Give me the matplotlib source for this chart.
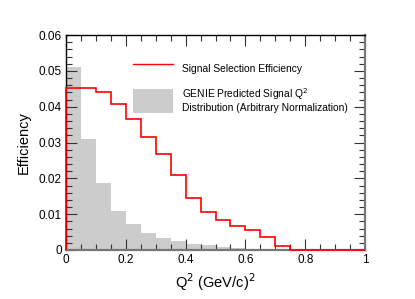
import matplotlib
matplotlib.use("Agg")
import matplotlib.pyplot as plt
import numpy as np
from matplotlib.lines import Line2D
from matplotlib.patches import Patch
from matplotlib.ticker import MultipleLocator

plt.rcParams['font.family'] = ['Liberation Sans', 'DejaVu Sans']

bin_edges = [0.0, 0.05, 0.10, 0.15, 0.20, 0.25, 0.30, 0.35, 0.40, 0.45, 0.50,
             0.55, 0.60, 0.65, 0.70, 0.75, 0.80, 0.85, 0.90, 0.95, 1.00]
efficiency = [0.0453, 0.0452, 0.0440, 0.0407, 0.0365, 0.0316, 0.0267, 0.0208,
              0.0146, 0.0107, 0.0085, 0.0068, 0.0056, 0.0037, 0.0012,
              0.0, 0.0, 0.0, 0.0, 0.0]
genie_q2 = [0.0511, 0.0310, 0.0187, 0.0109, 0.0073, 0.0047, 0.0033, 0.0026,
            0.0017, 0.0013, 0.0008, 0.0006, 0.0004, 0.0003, 0.0002,
            0.0001, 0.0001, 0.0, 0.0, 0.0]
x_ticks = [0, 0.2, 0.4, 0.6, 0.8, 1.0]
x_labels = ["0", "0.2", "0.4", "0.6", "0.8", "1"]
y_ticks = [0, 0.01, 0.02, 0.03, 0.04, 0.05, 0.06]
y_labels = ["0", "0.01", "0.02", "0.03", "0.04", "0.05", "0.06"]

fig = plt.figure(figsize=(4.15, 2.99), dpi=100)
ax = fig.add_axes([66/415, 1-250/299, 299/415, 215/299])

ax.stairs(genie_q2, bin_edges, fill=True, color='#cccccc', zorder=1)
ax.stairs(efficiency, bin_edges, baseline=0, fill=False, color='#ff0000',
          linewidth=1.2, zorder=5, clip_on=False)

ax.set_xlim(0, 1)
ax.set_ylim(0, 0.06)
ax.set_xticks(x_ticks)
ax.set_xticklabels(x_labels)
ax.set_yticks(y_ticks)
ax.set_yticklabels(y_labels)
ax.xaxis.set_minor_locator(MultipleLocator(0.05))
ax.yaxis.set_minor_locator(MultipleLocator(0.002))
ax.tick_params(which='both', direction='in', top=True, right=True,
               labelsize=8.5, pad=3, color='#333333')
ax.tick_params(which='major', length=8, width=0.8)
ax.tick_params(which='minor', length=4, width=0.8)

for s in ['top', 'left']:
    ax.spines[s].set_color('black')
    ax.spines[s].set_linewidth(1.0)
for s in ['right', 'bottom']:
    ax.spines[s].set_color('#777777')
    ax.spines[s].set_linewidth(1.6)

ax.set_ylabel('Efficiency', fontsize=10.5, labelpad=6)
ax.set_xlabel('Q$^2$ (GeV/c)$^2$', fontsize=10.5, labelpad=4)

handles = [Line2D([0], [0], color='#ff0000', linewidth=1.0),
           Patch(facecolor='#cccccc', edgecolor='none')]
labels = ['Signal Selection Efficiency',
          'GENIE Predicted Signal Q$^2$\nDistribution (Arbitrary Normalization)']
ax.legend(handles, labels, loc='upper left', bbox_to_anchor=(0.21, 0.92),
          frameon=False, fontsize=7.4, handlelength=3.9, handleheight=3.3,
          handletextpad=0.9, labelspacing=0.5, borderaxespad=0)

fig.savefig('out.png', dpi=100)
